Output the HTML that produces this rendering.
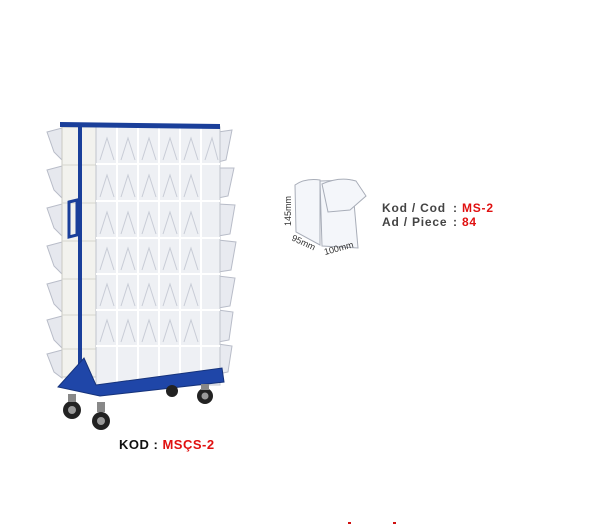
<!DOCTYPE html>
<html><head><style>
body{margin:0;background:#fff;width:600px;height:524px;overflow:hidden;font-family:"Liberation Sans",Arial,sans-serif}
</style></head><body>
<svg width="600" height="524" viewBox="0 0 600 524" xmlns="http://www.w3.org/2000/svg">
<g fill="#e6e8ee" stroke="#b8bcc8" stroke-width="1">
<path d="M47,132 L62,128 L62,160 L54,152 Z"/>
<path d="M47,170 L62,166 L62,198 L54,190 Z"/>
<path d="M47,208 L62,204 L62,236 L54,228 Z"/>
<path d="M47,246 L62,242 L62,274 L54,266 Z"/>
<path d="M47,284 L62,280 L62,312 L54,304 Z"/>
<path d="M47,320 L62,316 L62,348 L54,340 Z"/>
<path d="M47,354 L62,350 L62,378 L54,372 Z"/>
</g>
<g fill="#e8eaf0" stroke="#b8bcc8" stroke-width="1">
<path d="M218,132 L232,130 L226,160 L218,162 Z"/>
<path d="M218,168 L234,168 L228,196 L218,198 Z"/>
<path d="M218,204 L235,205 L230,234 L218,236 Z"/>
<path d="M218,240 L236,242 L231,270 L218,272 Z"/>
<path d="M218,276 L235,278 L230,306 L218,308 Z"/>
<path d="M218,310 L233,312 L229,340 L218,342 Z"/>
<path d="M218,344 L232,346 L228,372 L218,374 Z"/>
</g>
<rect x="62" y="127" width="34" height="250" fill="#f2f2ee" stroke="#c9c9c3"/>
<g stroke="#d5d5cf"><line x1="62" y1="165" x2="96" y2="165"/><line x1="62" y1="203" x2="96" y2="203"/><line x1="62" y1="241" x2="96" y2="241"/><line x1="62" y1="279" x2="96" y2="279"/><line x1="62" y1="315" x2="96" y2="315"/><line x1="62" y1="349" x2="96" y2="349"/></g>
<rect x="96" y="127" width="124" height="258" fill="#eef0f4" stroke="#c0c4cc"/>
<g stroke="#ffffff" stroke-width="2">
<line x1="117" y1="127" x2="117" y2="385"/><line x1="138" y1="127" x2="138" y2="385"/><line x1="159" y1="127" x2="159" y2="385"/><line x1="180" y1="127" x2="180" y2="385"/><line x1="201" y1="127" x2="201" y2="385"/>
<line x1="96" y1="164" x2="220" y2="164"/><line x1="96" y1="201" x2="220" y2="201"/><line x1="96" y1="238" x2="220" y2="238"/><line x1="96" y1="274" x2="220" y2="274"/><line x1="96" y1="310" x2="220" y2="310"/><line x1="96" y1="346" x2="220" y2="346"/>
</g>
<g fill="none" stroke="#c8ccd6" stroke-width="1">
<path d="M100,160 L107,138 L114,160 M121,160 L128,138 L135,160 M142,160 L149,138 L156,160 M163,160 L170,138 L177,160 M184,160 L191,138 L198,160 M205,160 L212,138 L218,160"/>
<path d="M100,197 L107,175 L114,197 M121,197 L128,175 L135,197 M142,197 L149,175 L156,197 M163,197 L170,175 L177,197 M184,197 L191,175 L198,197"/>
<path d="M100,234 L107,212 L114,234 M121,234 L128,212 L135,234 M142,234 L149,212 L156,234 M163,234 L170,212 L177,234 M184,234 L191,212 L198,234"/>
<path d="M100,270 L107,248 L114,270 M121,270 L128,248 L135,270 M142,270 L149,248 L156,270 M163,270 L170,248 L177,270 M184,270 L191,248 L198,270"/>
<path d="M100,306 L107,284 L114,306 M121,306 L128,284 L135,306 M142,306 L149,284 L156,306 M163,306 L170,284 L177,306 M184,306 L191,284 L198,306"/>
<path d="M100,342 L107,320 L114,342 M121,342 L128,320 L135,342 M142,342 L149,320 L156,342 M163,342 L170,320 L177,342 M184,342 L191,320 L198,342"/>
</g>
<path d="M60,122 L220,124 L220,129 L60,127 Z" fill="#1a3f9a"/>
<rect x="78" y="125" width="4" height="240" fill="#1a3f9a"/>
<path d="M69,202 L77,200 L77,235 L69,237 Z" fill="none" stroke="#1a3f9a" stroke-width="3"/>
<path d="M58,387 L84,358 L96,385 L222,368 L224,382 L100,396 Z" fill="#1f46a8" stroke="#15327a"/>
<g fill="#222"><circle cx="72" cy="410" r="9"/><circle cx="101" cy="421" r="9"/><circle cx="205" cy="396" r="8"/><circle cx="172" cy="391" r="6"/></g>
<g fill="#999"><circle cx="72" cy="410" r="4"/><circle cx="101" cy="421" r="4"/><circle cx="205" cy="396" r="3.5"/></g>
<g fill="#888"><rect x="68" y="394" width="8" height="8"/><rect x="97" y="402" width="8" height="10"/><rect x="201" y="384" width="8" height="6"/></g>
<text x="119" y="449" font-family="Liberation Sans,Arial,sans-serif" font-weight="bold" font-size="13" letter-spacing="0.5" fill="#111">KOD : <tspan fill="#e01010">MSÇS-2</tspan></text>
<g fill="#f4f6fa" stroke="#a8adb8" stroke-width="1">
<path d="M295,185 Q305,178 320,180 L320,245 L296,232 Z"/>
<path d="M320,181 L352,180 L358,248 L322,246 Z"/>
<path d="M322,184 Q340,176 356,181 L366,196 L350,210 L328,212 Z"/>
</g>
<g font-family="Liberation Sans,Arial,sans-serif" font-size="9" fill="#333">
<text transform="translate(291,226) rotate(-90)">145mm</text>
<text transform="translate(291,240) rotate(25)">95mm</text>
<text transform="translate(325,255) rotate(-15)">100mm</text>
</g>
<g font-family="Liberation Sans,Arial,sans-serif" font-weight="bold" font-size="12" fill="#444" letter-spacing="0.8">
<text x="382" y="212">Kod / Cod</text><text x="453" y="212">: <tspan fill="#e01010">MS-2</tspan></text>
<text x="382" y="226">Ad / Piece</text><text x="453" y="226">: <tspan fill="#e01010">84</tspan></text>
</g>
<rect x="348" y="522" width="3" height="2" fill="#d01010"/>
<rect x="393" y="522" width="3" height="2" fill="#d01010"/>
</svg>
</body></html>
